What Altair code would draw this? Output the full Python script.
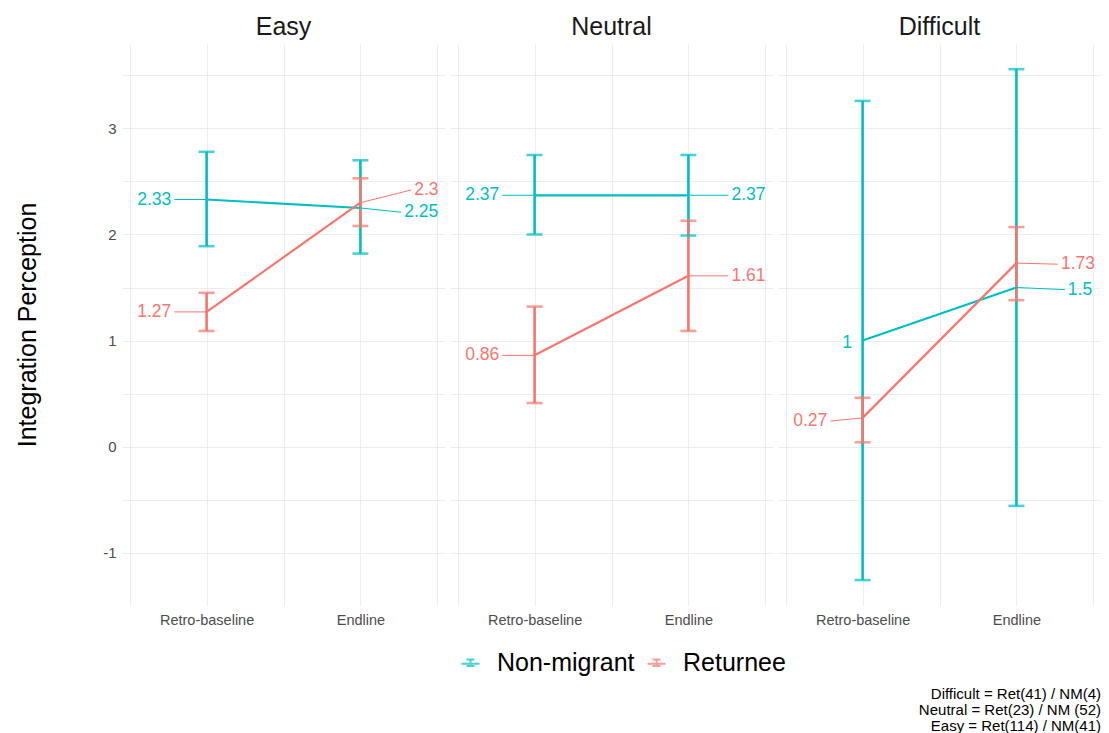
import altair as alt
import pandas as pd

# ---------------- data ----------------
panel_order = ["Easy", "Neutral", "Difficult"]
group_order = ["Non-migrant", "Returnee"]
time_levels = ["Retro-baseline", "Endline"]

panels = ["Easy"] * 4 + ["Neutral"] * 4 + ["Difficult"] * 4
groups = ["Non-migrant", "Non-migrant", "Returnee", "Returnee"] * 3
times = ["Retro-baseline", "Endline"] * 6
means = [2.33, 2.25, 1.27, 2.30, 2.37, 2.37, 0.86, 1.61, 1.00, 1.50, 0.27, 1.73]
lowers = [1.89, 1.82, 1.09, 2.08, 2.00, 1.99, 0.41, 1.09, -1.26, -0.56, 0.04, 1.38]
uppers = [2.78, 2.70, 1.45, 2.53, 2.75, 2.75, 1.32, 2.13, 3.26, 3.56, 0.46, 2.07]

y_ticks = [-1.5, -1, -0.5, 0, 0.5, 1, 1.5, 2, 2.5, 3, 3.5]
x_ticks = [-0.5, 0, 0.5, 1, 1.5]

caption_lines = [
    "Difficult = Ret(41) / NM(4)",
    "Neutral = Ret(23) / NM (52)",
    "Easy = Ret(114) / NM(41)",
]

# ---------------- style ----------------
group_colors = ["#00BFC4", "#F8766D"]
# repel-like label placement (x in time units, y in value units)
label_nudge_x = [-0.21, 0.265, -0.21, 0.33, -0.21, 0.26, -0.21, 0.26, -0.05, 0.315, -0.21, 0.27]
label_nudge_y = [0.0, -0.04, 0.0, 0.12, 0.0, 0.0, 0.0, 0.0, -0.02, -0.02, -0.03, -0.01]

FONT = "Liberation Sans"

df = pd.DataFrame({
    "panel": panels,
    "group": groups,
    "time": times,
    "mean": means,
    "lower": lowers,
    "upper": uppers,
    "nx": label_nudge_x,
    "ny": label_nudge_y,
})
df["t"] = df["time"].map({k: i for i, k in enumerate(time_levels)})
df["label"] = df["mean"].map(lambda v: f"{v:g}")
df["lx"] = df["t"] + df["nx"]
df["ly"] = df["mean"] + df["ny"]

x_scale = alt.Scale(domain=[-0.55, 1.55], nice=False, zero=False)
y_scale = alt.Scale(domain=[-1.495, 3.797], nice=False, zero=False)

x_axis = alt.Axis(
    values=x_ticks,
    labelExpr="datum.value == 0 ? 'Retro-baseline' : (datum.value == 1 ? 'Endline' : '')",
    title=None, ticks=False, domain=False, labelFlush=False,
    labelPadding=8, labelFontSize=14.5, labelColor="#4D4D4D", labelFont=FONT,
    gridColor="#EDEDED", gridWidth=1,
)
y_axis = alt.Axis(
    values=y_ticks,
    labelExpr="datum.value % 1 == 0 ? toString(datum.value) : ''",
    title="Integration Perception", titleFontSize=25, titleFont=FONT,
    titleFontWeight="normal", titleColor="#000000", titlePadding=62,
    ticks=False, domain=False, labelPadding=6, labelFontSize=15,
    labelColor="#4D4D4D", labelFont=FONT, gridColor="#EDEDED", gridWidth=1,
)

legend_path = "M-1,0.1H1M0,-0.35V0.35M-0.45,-0.35H0.45M-0.45,0.35H0.45"
color = alt.Color(
    "group:N",
    scale=alt.Scale(domain=group_order, range=group_colors),
    legend=alt.Legend(
        title=None, orient="none", direction="horizontal",
        legendX=336, legendY=606,
        symbolType=legend_path, symbolSize=324, symbolStrokeWidth=2,
        labelFontSize=25, labelFont=FONT, labelColor="#000000",
        labelOffset=14, columnPadding=8,
    ),
)
color_nolegend = alt.Color(
    "group:N", scale=alt.Scale(domain=group_order, range=group_colors), legend=None
)

base = alt.Chart()

err = base.mark_rule(strokeWidth=2.6).encode(
    x=alt.X("t:Q", scale=x_scale, axis=x_axis),
    y=alt.Y("lower:Q", scale=y_scale, axis=y_axis),
    y2="upper:Q",
    color=color,
)
caps = base.transform_fold(["lower", "upper"], as_=["end", "val"]).mark_tick(
    orient="horizontal", size=16, thickness=2.6
).encode(
    x=alt.X("t:Q", scale=x_scale),
    y=alt.Y("val:Q", scale=y_scale),
    color=color,
)
line = base.mark_line(strokeWidth=2.2).encode(
    x=alt.X("t:Q", scale=x_scale),
    y=alt.Y("mean:Q", scale=y_scale),
    color=color,
    order="t:Q",
)
seg = base.transform_filter("abs(datum.nx) > 0.1").mark_rule(strokeWidth=1).encode(
    x=alt.X("t:Q", scale=x_scale),
    x2="lx:Q",
    y=alt.Y("mean:Q", scale=y_scale),
    y2="ly:Q",
    color=color_nolegend,
)
txt_left = base.transform_filter("datum.t == 0").mark_text(
    align="right", baseline="middle", dx=-3, fontSize=17.5, font=FONT
).encode(
    x=alt.X("lx:Q", scale=x_scale),
    y=alt.Y("ly:Q", scale=y_scale),
    text="label:N",
    color=color_nolegend,
)
txt_right = base.transform_filter("datum.t == 1").mark_text(
    align="left", baseline="middle", dx=3, fontSize=17.5, font=FONT
).encode(
    x=alt.X("lx:Q", scale=x_scale),
    y=alt.Y("ly:Q", scale=y_scale),
    text="label:N",
    color=color_nolegend,
)

layered = alt.layer(err, caps, line, seg, txt_left, txt_right).properties(
    width=323, height=561
)

chart = layered.facet(
    column=alt.Column(
        "panel:N", sort=panel_order,
        header=alt.Header(
            title=None, labelFontSize=25, labelFont=FONT, labelColor="#1A1A1A",
            labelPadding=4,
        ),
    ),
    data=df,
    spacing=5,
).properties(
    title=alt.TitleParams(
        text=caption_lines, orient="bottom", anchor="end", fontSize=15,
        font=FONT, fontWeight="normal", color="#000000", lineHeight=16,
        offset=11, align="right",
    ),
    padding={"left": 7, "top": 7, "right": 0, "bottom": 0},
).configure(background="#FFFFFF").configure_view(strokeWidth=0, stroke="transparent")

chart.save("out.html", embed_options={"renderer": "svg", "actions": False})
